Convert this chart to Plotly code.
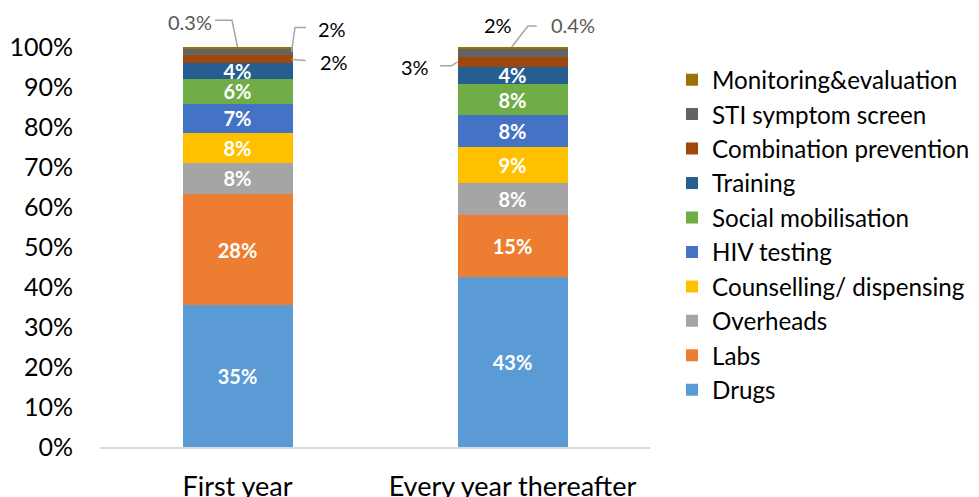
import plotly.graph_objects as go

categories = ["First year", "Every year thereafter"]
series_names = ["Drugs", "Labs", "Overheads", "Counselling/ dispensing", "HIV testing",
                "Social mobilisation", "Training", "Combination prevention",
                "STI symptom screen", "Monitoring&evaluation"]
first_year = [35.4, 27.9, 7.7, 7.6, 7.1, 6.4, 3.8, 2.0, 1.8, 0.3]
every_year = [42.5, 15.4, 8.1, 9.0, 7.9, 7.9, 4.2, 2.6, 2.0, 0.4]
colors = ["#5B9BD5", "#ED7D31", "#A5A5A5", "#FFC000", "#4472C4",
          "#70AD47", "#255E91", "#9E480E", "#636363", "#997300"]
y_tick_vals = [0, 10, 20, 30, 40, 50, 60, 70, 80, 90, 100]
y_tick_text = ["0%", "10%", "20%", "30%", "40%", "50%", "60%", "70%", "80%", "90%", "100%"]
n_inside = 7  # series labelled inside the bars

FONT = "Lato"
PLOT_W = 550.0
PLOT_H = 400.0
N_CAT = len(categories)

fig = go.Figure()
for i, name in enumerate(series_names):
    vals = [first_year[i], every_year[i]]
    fig.add_trace(go.Bar(
        x=categories, y=vals, name=name, marker=dict(color=colors[i], line=dict(width=0)),
        texttemplate="%{y:.0f}%" if i < n_inside else "",
        textposition="inside", insidetextanchor="middle", textangle=0,
        constraintext="none",
        textfont=dict(family=FONT, size=20, color="white", weight="bold"),
        hoverinfo="skip",
    ))

def cum(vals, k):
    return sum(vals[:k])

def to_paper(cat, val, dx=0.0, dy=0.0):
    return ((cat + 0.5) / N_CAT + dx / PLOT_W, val / 100.0 + dy / PLOT_H)

annotations = []
shapes = []

def leader(cat, val, pts):
    path = ""
    for j, (dx, dy) in enumerate(pts):
        px, py = to_paper(cat, val, dx, dy)
        path += ("M " if j == 0 else " L ") + f"{px} {py}"
    shapes.append(dict(type="path", path=path, xref="paper", yref="paper",
                       line=dict(color="#A6A6A6", width=1.5)))

def label(cat, val, dx, dy, text, color, xanchor="center"):
    px, py = to_paper(cat, val, dx, dy)
    annotations.append(dict(x=px, y=py, xref="paper", yref="paper", text=text,
                            showarrow=False, xanchor=xanchor, yanchor="middle",
                            font=dict(family=FONT, size=20, color=color)))

HALF_BAR = 55  # px, half of drawn bar width

# First year
tot0 = sum(first_year)
leader(0, tot0, [(0, 0), (-5.5, 26.7), (-22.5, 26.7)])
label(0, tot0, -47.5, 24.7, f"{first_year[9]:.1f}%", "#595959")
sti0 = cum(first_year, 8) + first_year[8] / 2
leader(0, sti0, [(HALF_BAR - 1, 0), (HALF_BAR + 2.5, 24.3), (HALF_BAR + 13.5, 24.3)])
label(0, sti0, HALF_BAR + 23.5, 23, f"{first_year[8]:.0f}%", "black", "left")
cp0 = cum(first_year, 7) + first_year[7] / 2
leader(0, cp0, [(HALF_BAR - 1, 0), (HALF_BAR + 13, -1)])
label(0, cp0, HALF_BAR + 25.5, -3, f"{first_year[7]:.0f}%", "black", "left")

# Every year thereafter
tot1 = sum(every_year)
sti1 = cum(every_year, 8) + every_year[8] / 2
label(1, sti1, -14.5, 27.3, f"{every_year[8]:.0f}%", "black")
leader(1, tot1, [(-0.8, 0), (15.5, 21), (24.2, 21)])
label(1, tot1, 36.5, 21.7, f"{every_year[9]:.1f}%", "#595959", "left")
cp1 = cum(every_year, 7) + every_year[7] / 2
leader(1, cp1, [(-HALF_BAR, 0), (-HALF_BAR - 6, -4), (-HALF_BAR - 17.5, -4)])
label(1, cp1, -HALF_BAR - 26.5, -5.5, f"{every_year[7]:.0f}%", "black", "right")

# page body has an 8px margin, so the figure is sized to the remaining window
fig.update_layout(
    barmode="stack", bargap=0.6,
    width=971, height=489,
    margin=dict(l=92, r=329, t=39, b=50, autoexpand=False),
    paper_bgcolor="white", plot_bgcolor="white",
    font=dict(family=FONT, color="black"),
    showlegend=True,
    legend=dict(traceorder="reversed",
                x=1.04, xanchor="left", y=0.974, yanchor="top",
                font=dict(family=FONT, size=24.2, color="black"),
                itemwidth=30, bgcolor="rgba(0,0,0,0)"),
    annotations=annotations, shapes=shapes,
)
fig.update_xaxes(type="category", range=[-0.5, 1.5], showline=True, linecolor="#D9D9D9",
                 linewidth=1.5, ticks="", showgrid=False, automargin=False,
                 tickfont=dict(family=FONT, size=27, color="black"), ticklabelstandoff=15)
fig.update_yaxes(range=[0, 100], tickmode="array", tickvals=y_tick_vals, ticktext=y_tick_text,
                 showgrid=False, zeroline=False, showline=False, ticks="", automargin=False,
                 tickfont=dict(family=FONT, size=25, color="black"), ticklabelstandoff=26)

fig.write_html("out.html")
